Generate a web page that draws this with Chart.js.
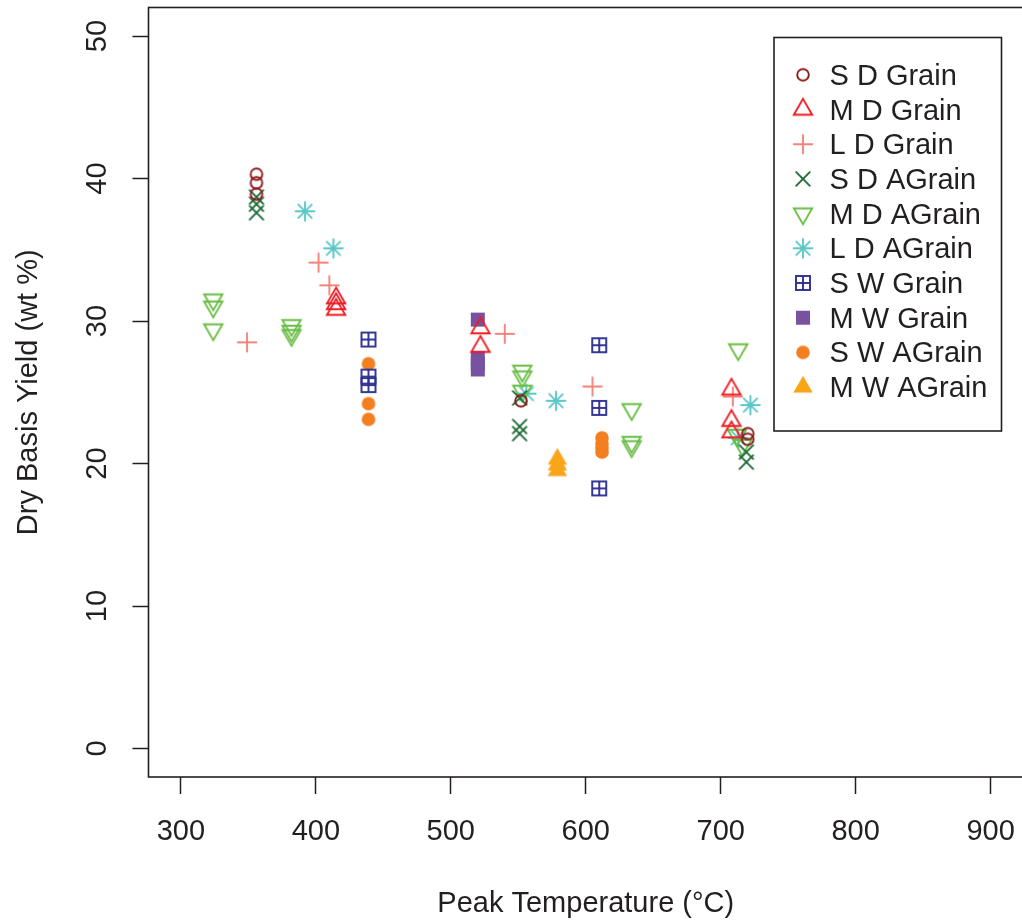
<!DOCTYPE html>
<html>
<head>
<meta charset="utf-8">
<script src="https://cdn.jsdelivr.net/npm/chart.js@4.4.1/dist/chart.umd.min.js"></script>
<style>
  html, body { margin: 0; padding: 0; background: #fff; overflow: hidden; }
  canvas { display: block; }
</style>
</head>
<body>
<canvas id="c" width="1030" height="920" style="width:1030px;height:920px"></canvas>
<script>
// ---------- DATA ----------
const seriesNames = ['S D Grain', 'M D Grain', 'L D Grain', 'S D AGrain', 'M D AGrain',
                     'L D AGrain', 'S W Grain', 'M W Grain', 'S W AGrain', 'M W AGrain'];

const sdGrainT  = [356, 356, 356, 552, 720, 720];
const sdGrainY  = [40.3, 39.7, 38.9, 24.4, 22.1, 21.7];

const mdGrainT  = [415, 415, 415, 522, 522, 708, 708, 708];
const mdGrainY  = [31.6, 31.2, 30.8, 29.5, 28.2, 25.2, 23.0, 22.2];

const ldGrainT  = [349, 402, 410, 540, 605, 709];
const ldGrainY  = [28.5, 34.1, 32.5, 29.1, 25.4, 24.7];

const sdAGrainT = [356, 356, 356, 551, 551, 551, 719, 719];
const sdAGrainY = [38.7, 38.2, 37.6, 24.6, 22.6, 22.1, 20.8, 20.1];

const mdAGrainT = [324, 324, 324, 382, 382, 382, 553, 553, 553, 634, 634, 634, 713, 712, 716];
const mdAGrainY = [31.5, 31.0, 29.4, 29.7, 29.3, 29.0, 26.5, 26.1, 25.1, 23.8, 21.5, 21.2, 28.0, 22.0, 21.3];

const ldAGrainT = [392, 413, 556, 578, 722, 713];
const ldAGrainY = [37.7, 35.1, 24.9, 24.4, 24.1, 21.8];

const swGrainT  = [439, 439, 439, 610, 610, 610];
const swGrainY  = [28.7, 26.1, 25.5, 28.3, 23.9, 18.25];

const mwGrainT  = [520, 520, 520, 520];
const mwGrainY  = [30.1, 27.4, 27.0, 26.6];

const swAGrainT = [439, 439, 439, 612, 612, 612, 612];
const swAGrainY = [27.0, 24.2, 23.1, 21.8, 21.4, 21.1, 20.8];

const mwAGrainT = [579, 579, 579];
const mwAGrainY = [20.3, 19.9, 19.5];

const xTicks = [300, 400, 500, 600, 700, 800, 900];
const yTicks = [0, 10, 20, 30, 40, 50];
const xTitle = 'Peak Temperature (°C)';
const yTitle = 'Dry Basis Yield (wt %)';

// ---------- STYLE ----------
const FONT = '"Liberation Sans", Arial, Helvetica, sans-serif';
const INK = '#231F20';
const seriesT = [sdGrainT, mdGrainT, ldGrainT, sdAGrainT, mdAGrainT, ldAGrainT, swGrainT, mwGrainT, swAGrainT, mwAGrainT];
const seriesY = [sdGrainY, mdGrainY, ldGrainY, sdAGrainY, mdAGrainY, ldAGrainY, swGrainY, mwGrainY, swAGrainY, mwAGrainY];
const colors = ['#8B1A1A', '#ED1C24', '#F5837A', '#1E6B37', '#6ABD45',
                '#5BC8C6', '#2E3092', '#7851A1', '#F37F21', '#F9A51A'];
const kinds = ['circle', 'triUp', 'plus', 'x', 'triDown', 'asterisk', 'sqPlus', 'sqFill', 'dotFill', 'triFill'];

function glyph(kind, color) {
  const c = document.createElement('canvas');
  c.width = 30; c.height = 30;
  const g = c.getContext('2d');
  g.translate(15, 15);
  g.strokeStyle = color; g.fillStyle = color;
  g.lineWidth = 1.9; g.lineCap = 'round'; g.lineJoin = 'miter';
  const line = (x1, y1, x2, y2) => { g.beginPath(); g.moveTo(x1, y1); g.lineTo(x2, y2); g.stroke(); };
  const tri = (r, down, fill) => {
    const s = down ? -1 : 1;
    g.beginPath();
    g.moveTo(0, -s * r);
    g.lineTo(0.866 * r, s * r / 2);
    g.lineTo(-0.866 * r, s * r / 2);
    g.closePath();
    fill ? g.fill() : g.stroke();
  };
  switch (kind) {
    case 'circle': g.beginPath(); g.arc(0, 0, 5.8, 0, Math.PI * 2); g.stroke(); break;
    case 'triUp': tri(10.6, false, false); break;
    case 'triDown': tri(10.6, true, false); break;
    case 'triFill': tri(11.2, false, true); break;
    case 'plus': line(-9.3, 0, 9.3, 0); line(0, -9.3, 0, 9.3); break;
    case 'x': line(-6.8, -6.8, 6.8, 6.8); line(-6.8, 6.8, 6.8, -6.8); break;
    case 'asterisk':
      line(-9.4, 0, 9.4, 0); line(0, -9.4, 0, 9.4);
      line(-6.7, -6.7, 6.7, 6.7); line(-6.7, 6.7, 6.7, -6.7); break;
    case 'sqPlus':
      g.lineCap = 'butt';
      g.strokeRect(-7, -7, 14, 14);
      line(0, -7, 0, 7); line(-7, 0, 7, 0); break;
    case 'sqFill': g.fillRect(-7, -7, 14, 14); break;
    case 'dotFill': g.beginPath(); g.arc(0, 0, 6.8, 0, Math.PI * 2); g.fill(); break;
  }
  return c;
}
const glyphs = kinds.map((k, i) => glyph(k, colors[i]));

const datasets = seriesNames.map((name, i) => ({
  label: name,
  data: seriesT[i].map((t, j) => ({ x: t, y: seriesY[i][j] })),
  pointStyle: glyphs[i],
  pointRadius: 6,
  pointHoverRadius: 6,
  borderColor: colors[i],
  backgroundColor: colors[i],
  showLine: false
}));

// ---------- PLUGINS ----------
const boxPlugin = {
  id: 'rbox',
  afterDraw(chart) {
    const { ctx, chartArea: a } = chart;
    ctx.save();
    ctx.strokeStyle = INK; ctx.lineWidth = 1.6;
    ctx.strokeRect(a.left, a.top, a.right - a.left, a.bottom - a.top);
    ctx.restore();
  }
};

const legendPlugin = {
  id: 'rlegend',
  afterDraw(chart) {
    const ctx = chart.ctx;
    const bx = 774, by = 37.5, bw = 227.5, bh = 393.5;
    ctx.save();
    ctx.fillStyle = '#fff';
    ctx.fillRect(bx, by, bw, bh);
    ctx.strokeStyle = INK; ctx.lineWidth = 1.6;
    ctx.strokeRect(bx, by, bw, bh);
    ctx.font = '29px ' + FONT;
    ctx.fillStyle = INK;
    ctx.textBaseline = 'middle';
    ctx.textAlign = 'left';
    chart.data.datasets.forEach((ds, i) => {
      const cy = 76.8 + i * 34.7;
      const img = ds.pointStyle;
      ctx.drawImage(img, 803 - img.width / 2, cy - 2 - img.height / 2);
      ctx.fillText(ds.label, 829.5, cy);
    });
    ctx.restore();
  }
};

// ---------- CHART ----------
const tickFont = { family: FONT, size: 29, lineHeight: 1.2 };
new Chart(document.getElementById('c'), {
  type: 'scatter',
  data: { datasets },
  options: {
    responsive: false,
    animation: false,
    events: [],
    layout: { padding: { top: 7.5, right: 4, left: 0, bottom: 0 } },
    plugins: { legend: { display: false }, tooltip: { enabled: false } },
    scales: {
      x: {
        type: 'linear', min: 276, max: 924,
        afterBuildTicks: s => { s.ticks = xTicks.map(v => ({ value: v })); },
        afterFit: s => { s.height = 143; s.paddingLeft = 0; s.paddingRight = 0; },
        grid: { display: true, drawOnChartArea: false, drawTicks: true, tickLength: 17, tickColor: INK, tickWidth: 1.5 },
        border: { display: false },
        ticks: { font: tickFont, color: INK, padding: 21, maxRotation: 0, minRotation: 0, autoSkip: false },
        title: { display: true, text: xTitle, color: INK, font: { family: FONT, size: 29, lineHeight: 1 }, padding: { top: 0, bottom: 1.5 } }
      },
      y: {
        type: 'linear', min: -2, max: 52,
        afterBuildTicks: s => { s.ticks = yTicks.map(v => ({ value: v })); },
        afterFit: s => { s.width = 148.5; s.paddingTop = 0; s.paddingBottom = 0; },
        grid: { display: true, drawOnChartArea: false, drawTicks: true, tickLength: 16, tickColor: INK, tickWidth: 1.5 },
        border: { display: false },
        ticks: { font: tickFont, color: INK, padding: 18, minRotation: 90, maxRotation: 90, crossAlign: 'center', autoSkip: false },
        title: { display: true, text: yTitle, color: INK, font: { family: FONT, size: 29, lineHeight: 1 }, padding: { top: 14.5, bottom: 0 } }
      }
    }
  },
  plugins: [boxPlugin, legendPlugin]
});
</script>
</body>
</html>
